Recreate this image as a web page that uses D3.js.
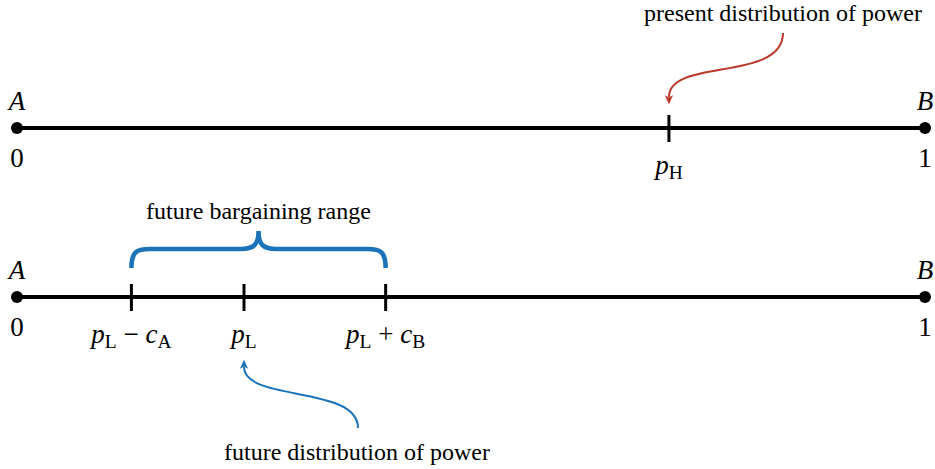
<!DOCTYPE html>
<html>
<head>
<meta charset="utf-8">
<script src="https://cdn.jsdelivr.net/npm/d3@7"></script>
<style>
  body { margin: 0; background: #fff; }
  text { font-family: "Liberation Serif", "Times New Roman", serif; fill: #000; }
</style>
</head>
<body>
<div id="chart"></div>
<script>
// chart values
var endNames = ['A', 'B']
var endValues = [0, 1]
var presentTicks = [0.718]
var presentLabels = [[['p', 'i'], ['H', 's']]]
var futureTicks = [0.126, 0.25, 0.406]
var futureLabels = [
  [['p', 'i'], ['L', 's'], [' \u2212 ', 'r'], ['c', 'i'], ['A', 's']],
  [['p', 'i'], ['L', 's']],
  [['p', 'i'], ['L', 's'], [' + ', 'r'], ['c', 'i'], ['B', 's']]
]
var presentNote = 'present distribution of power'
var futureNote = 'future distribution of power'
var rangeNote = 'future bargaining range'

var width = 935
var height = 469
var red = '#b9382a'
var blue = '#1b73b9'
var labelSize = 27
var noteSize = 24

var svg = d3.select('#chart')
  .append('svg')
  .attr('width', width)
  .attr('height', height)

var x = d3.scaleLinear()
  .domain([0, 1])
  .range([17, 925])

var defs = svg.append('defs')
function arrowMarker(id, color) {
  defs.append('marker')
    .attr('id', id)
    .attr('viewBox', '0 -5 10 10')
    .attr('refX', 2)
    .attr('refY', 0)
    .attr('markerWidth', 4.6)
    .attr('markerHeight', 4.6)
    .attr('orient', 'auto')
    .append('path')
    .attr('d', 'M0,-4.5 L10,0 L0,4.5 L2.5,0 Z')
    .attr('fill', color)
}
arrowMarker('arrow-red', red)
arrowMarker('arrow-blue', blue)

// write a math label made of italic / roman / subscript pieces
function mathLabel(g, parts, cx, y, size) {
  var t = g.append('text')
    .attr('x', cx)
    .attr('y', y)
    .attr('text-anchor', 'middle')
    .style('font-size', size + 'px')
    .style('white-space', 'pre')
  var shift = 0
  parts.forEach(function(p) {
    var s = t.append('tspan').text(p[0])
    if (p[1] == 'i') s.style('font-style', 'italic')
    if (p[1] == 's') {
      s.attr('dy', 5 - shift).style('font-size', (size * 0.72) + 'px')
      shift = 5
    } else {
      s.attr('dy', -shift)
      shift = 0
    }
  })
  return t
}

// draw one number line
function numberLine(y, ticks, labels) {
  var g = svg.append('g')

  g.append('line')
    .attr('x1', x(0)).attr('x2', x(1))
    .attr('y1', y).attr('y2', y)
    .attr('stroke', '#000')
    .attr('stroke-width', 4)

  g.selectAll('.end')
    .data(endValues)
    .enter()
    .append('circle')
    .attr('cx', d => x(d))
    .attr('cy', y)
    .attr('r', 6)
    .attr('fill', '#000')

  g.selectAll('.name')
    .data(endNames)
    .enter()
    .append('text')
    .attr('x', (d, i) => x(endValues[i]))
    .attr('y', y - 18)
    .attr('text-anchor', 'middle')
    .style('font-size', labelSize + 'px')
    .style('font-style', 'italic')
    .text(d => d)

  g.selectAll('.val')
    .data(endValues)
    .enter()
    .append('text')
    .attr('x', d => x(d))
    .attr('y', y + 39)
    .attr('text-anchor', 'middle')
    .style('font-size', labelSize + 'px')
    .text(d => d)

  g.selectAll('.tick')
    .data(ticks)
    .enter()
    .append('line')
    .attr('x1', d => x(d)).attr('x2', d => x(d))
    .attr('y1', y - 13).attr('y2', y + 14)
    .attr('stroke', '#000')
    .attr('stroke-width', 3)

  ticks.forEach(function(d, i) {
    mathLabel(g, labels[i], x(d), y + 46, labelSize)
  })
}

var y1 = 128
var y2 = 297
numberLine(y1, presentTicks, presentLabels)
numberLine(y2, futureTicks, futureLabels)

// present note with red arrow
svg.append('text')
  .attr('x', 783)
  .attr('y', 21)
  .attr('text-anchor', 'middle')
  .style('font-size', noteSize + 'px')
  .text(presentNote)

var px = x(presentTicks[0])
svg.append('path')
  .attr('d', 'M783,33 C783,82 ' + px + ',58 ' + px + ',97')
  .attr('fill', 'none')
  .attr('stroke', red)
  .attr('stroke-width', 2)
  .attr('marker-end', 'url(#arrow-red)')

// bargaining range brace
var bx0 = x(futureTicks[0])
var bx1 = x(futureTicks[2])
var bm = (bx0 + bx1) / 2
var bTop = 249
var bEnd = 268
var bTip = 231
svg.append('path')
  .attr('d',
    'M' + bx0 + ',' + bEnd +
    ' C' + bx0 + ',' + (bTop + 3) + ' ' + (bx0 + 5) + ',' + bTop + ' ' + (bx0 + 18) + ',' + bTop +
    ' L' + (bm - 18) + ',' + bTop +
    ' C' + (bm - 5) + ',' + bTop + ' ' + bm + ',' + (bTop - 4) + ' ' + bm + ',' + bTip +
    ' C' + bm + ',' + (bTop - 4) + ' ' + (bm + 5) + ',' + bTop + ' ' + (bm + 18) + ',' + bTop +
    ' L' + (bx1 - 18) + ',' + bTop +
    ' C' + (bx1 - 5) + ',' + bTop + ' ' + bx1 + ',' + (bTop + 3) + ' ' + bx1 + ',' + bEnd)
  .attr('fill', 'none')
  .attr('stroke', blue)
  .attr('stroke-width', 4.5)

svg.append('text')
  .attr('x', bm)
  .attr('y', 219)
  .attr('text-anchor', 'middle')
  .style('font-size', noteSize + 'px')
  .text(rangeNote)

// future note with blue arrow
var lx = x(futureTicks[1])
svg.append('path')
  .attr('d', 'M358,428 C358,385 ' + lx + ',402 ' + lx + ',367')
  .attr('fill', 'none')
  .attr('stroke', blue)
  .attr('stroke-width', 2)
  .attr('marker-end', 'url(#arrow-blue)')

svg.append('text')
  .attr('x', 357)
  .attr('y', 460)
  .attr('text-anchor', 'middle')
  .style('font-size', noteSize + 'px')
  .text(futureNote)
</script>
</body>
</html>
